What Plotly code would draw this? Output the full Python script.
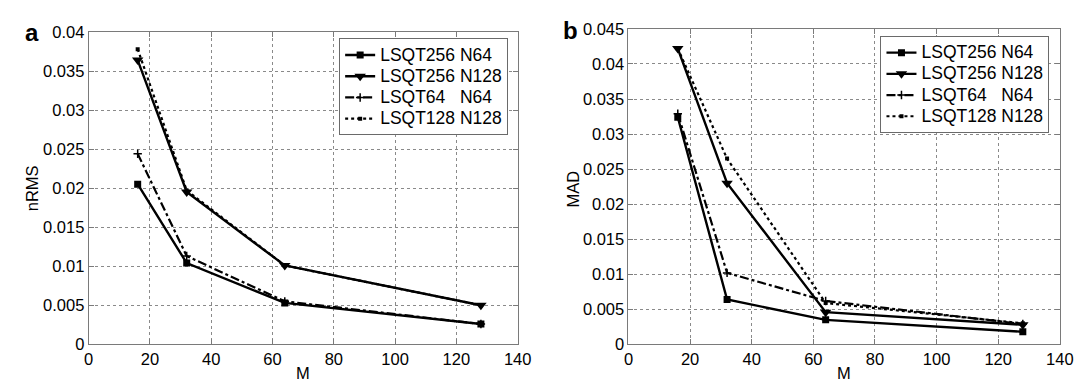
import plotly.graph_objects as go

# ---- data ----
M = [16, 32, 64, 128]
series_names = ["LSQT256 N64", "LSQT256 N128", "LSQT64   N64", "LSQT128 N128"]

nrms_256_n64 = [0.0205, 0.0104, 0.0053, 0.0026]
nrms_256_n128 = [0.0364, 0.0195, 0.0101, 0.0050]
nrms_64_n64 = [0.0244, 0.0113, 0.0055, 0.0026]
nrms_128_n128 = [0.0378, 0.0197, 0.0101, 0.0050]

mad_256_n64 = [0.0324, 0.0064, 0.0035, 0.0018]
mad_256_n128 = [0.0422, 0.0230, 0.0046, 0.0028]
mad_64_n64 = [0.0329, 0.0102, 0.0062, 0.0029]
mad_128_n128 = [0.0422, 0.0265, 0.0059, 0.0030]

x_ticks = [0, 20, 40, 60, 80, 100, 120, 140]
y_ticks_a = [0, 0.005, 0.01, 0.015, 0.02, 0.025, 0.03, 0.035, 0.04]
y_labels_a = ["0", "0.005", "0.01", "0.015", "0.02", "0.025", "0.03", "0.035", "0.04"]
y_ticks_b = [0, 0.005, 0.01, 0.015, 0.02, 0.025, 0.03, 0.035, 0.04, 0.045]
y_labels_b = ["0", "0.005", "0.01", "0.015", "0.02", "0.025", "0.03", "0.035", "0.04", "0.045"]

FONT = "Liberation Sans, Arial, sans-serif"
W, H = 1082, 384

styles = [
    dict(line=dict(color="black", width=2.4, dash="solid"),
         marker=dict(symbol="square", size=7, color="black")),
    dict(line=dict(color="black", width=2.4, dash="solid"),
         marker=dict(symbol="triangle-down", size=10, color="black")),
    dict(line=dict(color="black", width=2.2, dash="dashdot"),
         marker=dict(symbol="cross-thin", size=6, color="black", line=dict(color="black", width=1.5))),
    dict(line=dict(color="black", width=2.2, dash="dot"),
         marker=dict(symbol="square", size=4, color="black")),
]

def legend_label(name):
    return "<span style='font-size:17.5px'>%s</span>" % name

fig = go.Figure()
data_a = [nrms_256_n64, nrms_256_n128, nrms_64_n64, nrms_128_n128]
data_b = [mad_256_n64, mad_256_n128, mad_64_n64, mad_128_n128]
for name, ys, st in zip(series_names, data_a, styles):
    fig.add_trace(go.Scatter(x=M, y=ys, name=legend_label(name), mode="lines+markers",
                             xaxis="x", yaxis="y", legend="legend", **st))
for name, ys, st in zip(series_names, data_b, styles):
    fig.add_trace(go.Scatter(x=M, y=ys, name=legend_label(name), mode="lines+markers",
                             xaxis="x2", yaxis="y2", legend="legend2", **st))

axis_common = dict(
    showgrid=True, gridcolor="#8a8a8a", griddash="dot", gridwidth=1,
    showline=True, linecolor="#7a7a7a", linewidth=1, mirror="allticks",
    ticks="inside", ticklen=5, tickcolor="#7a7a7a",
    tickfont=dict(family=FONT, size=16.5, color="black"),
    zeroline=False, fixedrange=True,
)

def px_x(p):
    return p / W

def px_y(p):
    return 1 - p / H

legend_common = dict(bgcolor="white", bordercolor="#6a6a6a", borderwidth=1,
                     font=dict(family=FONT, size=14, color="black"),
                     itemwidth=30, tracegroupgap=0, yanchor="top", xanchor="right")

fig.update_layout(
    width=W, height=H,
    margin=dict(l=0, r=0, t=0, b=0),
    paper_bgcolor="white", plot_bgcolor="white",
    font=dict(family=FONT, size=16, color="black"),
    xaxis=dict(domain=[px_x(77), px_x(513.7)], range=[0, 140], tickvals=x_ticks,
               anchor="y", **axis_common),
    yaxis=dict(domain=[px_y(343.4), px_y(15.7)], range=[0, 0.04], tickvals=y_ticks_a,
               ticktext=y_labels_a, anchor="x", **axis_common),
    xaxis2=dict(domain=[px_x(626.5), px_x(1065.5)], range=[0, 140], tickvals=x_ticks,
                anchor="y2", **axis_common),
    yaxis2=dict(domain=[px_y(343.5), px_y(12.5)], range=[0, 0.045], tickvals=y_ticks_b,
                ticktext=y_labels_b, anchor="x2", **axis_common),
    legend=dict(x=px_x(504), y=px_y(22.5), **legend_common),
    legend2=dict(x=px_x(1055), y=px_y(20), **legend_common),
    annotations=[
        dict(text="<b>a</b>", x=px_x(19), y=px_y(16), xref="paper", yref="paper",
             xanchor="center", yanchor="middle", showarrow=False,
             font=dict(family=FONT, size=24, color="black")),
        dict(text="<b>b</b>", x=px_x(567), y=px_y(14), xref="paper", yref="paper",
             xanchor="center", yanchor="middle", showarrow=False,
             font=dict(family=FONT, size=24, color="black")),
        dict(text="nRMS", x=px_x(19), y=px_y(180), xref="paper", yref="paper",
             xanchor="center", yanchor="middle", showarrow=False, textangle=-90,
             font=dict(family=FONT, size=16.5, color="black")),
        dict(text="M", x=px_x(295), y=px_y(374), xref="paper", yref="paper",
             xanchor="center", yanchor="middle", showarrow=False,
             font=dict(family=FONT, size=16.5, color="black")),
        dict(text="MAD", x=px_x(570), y=px_y(180), xref="paper", yref="paper",
             xanchor="center", yanchor="middle", showarrow=False, textangle=-90,
             font=dict(family=FONT, size=16.5, color="black")),
        dict(text="M", x=px_x(846), y=px_y(374), xref="paper", yref="paper",
             xanchor="center", yanchor="middle", showarrow=False,
             font=dict(family=FONT, size=16.5, color="black")),
    ],
)

fig.write_html("out.html")
